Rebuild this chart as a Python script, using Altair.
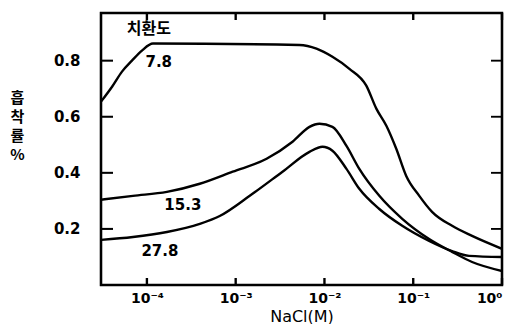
import altair as alt
import pandas as pd

# NaCl concentration (M) and adsorption (%)
x_78 = [3.04e-5, 4.05e-5, 5.24e-5, 6.78e-5, 8.79e-5, 1.17e-4, 5.24e-3, 8.13e-3,
        1.23e-2, 1.91e-2, 2.96e-2, 3.84e-2, 4.98e-2, 6.44e-2, 8.34e-2, 0.117,
        0.163, 0.274, 0.460, 1.0]
y_78 = [0.654, 0.707, 0.761, 0.800, 0.836, 0.861, 0.856, 0.843,
        0.814, 0.771, 0.711, 0.629, 0.568, 0.486, 0.389, 0.318,
        0.261, 0.211, 0.175, 0.129]

x_153 = [3.04e-5, 6.97e-5, 1.68e-4, 3.94e-4, 9.25e-4, 2.23e-3, 4.37e-3, 6.78e-3,
         8.79e-3, 1.23e-2, 1.77e-2, 2.47e-2, 4.15e-2, 7.52e-2, 0.151, 0.274,
         0.460, 1.0]
y_153 = [0.304, 0.318, 0.332, 0.361, 0.404, 0.450, 0.511, 0.564,
         0.575, 0.564, 0.496, 0.414, 0.318, 0.236, 0.164, 0.118,
         0.082, 0.050]

x_278 = [3.04e-5, 6.97e-5, 1.68e-4, 3.94e-4, 6.61e-4, 1.44e-3, 3.37e-3, 6.78e-3,
         9.5e-3, 1.23e-2, 1.77e-2, 2.47e-2, 4.15e-2, 7.52e-2, 0.151, 0.274,
         0.425, 1.0]
y_278 = [0.161, 0.171, 0.189, 0.218, 0.246, 0.318, 0.404, 0.475,
         0.493, 0.479, 0.414, 0.343, 0.271, 0.211, 0.157, 0.121,
         0.104, 0.100]

series_names = ["7.8", "15.3", "27.8"]

x_ticks = [1e-4, 1e-3, 1e-2, 1e-1, 1.0]
y_ticks = [0.2, 0.4, 0.6, 0.8]

label_text = ["치환도", "7.8", "15.3", "27.8"]
label_x = [1.05e-4, 1.36e-4, 2.54e-4, 1.40e-4]
label_y = [0.914, 0.796, 0.286, 0.121]

x_domain = [3.04e-5, 1.0]
y_domain = [0.0, 0.97]

rows = []
for name, xs, ys in zip(series_names, [x_78, x_153, x_278], [y_78, y_153, y_278]):
    for a, b in zip(xs, ys):
        rows.append({"s": name, "x": a, "y": b})
df = pd.DataFrame(rows)

W, H = 401, 272
xscale = alt.Scale(type="log", domain=x_domain)
yscale = alt.Scale(domain=y_domain, nice=False, zero=False)

sup = "['⁰','¹','²','³','⁴']"
label_expr = ("round(log(datum.value)/LN10) == 0 ? '10⁰' : '10⁻' + " + sup +
              "[-round(log(datum.value)/LN10)]")

lines = alt.Chart(df).mark_line(stroke="black", strokeWidth=2.4, interpolate="monotone", clip=True).encode(
    x=alt.X("x:Q", scale=xscale,
            axis=alt.Axis(values=x_ticks, labelExpr=label_expr, ticks=False, domain=False, grid=False,
                          labelPadding=6, labelFontSize=14, labelFont="DejaVu Sans",
                          labelFontWeight="bold", labelColor="black",
                          title="NaCl(M)", titleFontSize=16, titleFont="DejaVu Sans",
                          titleFontWeight="normal", titlePadding=3, titleColor="black"),
            ),
    y=alt.Y("y:Q", scale=yscale,
            axis=alt.Axis(values=y_ticks, format=".1f", ticks=False, domain=False, grid=False,
                          labelPadding=21, labelFontSize=15, labelFont="DejaVu Sans",
                          labelFontWeight="bold", labelColor="black",
                          title=["흡", "착", "률", "%"], titleAngle=0, titleAlign="center",
                          titleBaseline="top", titleX=-84, titleY=77, titleLineHeight=19,
                          titleFont="Noto Sans CJK KR", titleFontSize=15, titleFontWeight="bold",
                          titleColor="black")),
    detail="s:N",
)

# tick tables: position along the axis and the edge it sits on
xt = pd.DataFrame({"tx": x_ticks * 2, "ty": [y_domain[0]] * 5 + [y_domain[1]] * 5,
                   "side": ["b"] * 5 + ["t"] * 5})
yt = pd.DataFrame({"ty": y_ticks * 2, "tx": [x_domain[0]] * 4 + [x_domain[1]] * 4,
                   "side": ["l"] * 4 + ["r"] * 4})

vbar = "M-0.34,-1H0.34V1H-0.34Z"
hbar = "M-1,-0.17H1V0.17H-1Z"

bottom_ticks = alt.Chart(xt[xt.side == "b"]).mark_point(
    shape=vbar, filled=True, fill="black", stroke=None, opacity=1, size=49, yOffset=-3.5).encode(
    x=alt.X("tx:Q", scale=xscale), y=alt.Y("ty:Q", scale=yscale))
top_ticks = alt.Chart(xt[xt.side == "t"]).mark_point(
    shape=vbar, filled=True, fill="black", stroke=None, opacity=1, size=49, yOffset=3.5).encode(
    x=alt.X("tx:Q", scale=xscale), y=alt.Y("ty:Q", scale=yscale))
left_ticks = alt.Chart(yt[yt.side == "l"]).mark_point(
    shape=hbar, filled=True, fill="black", stroke=None, opacity=1, size=144, xOffset=6).encode(
    x=alt.X("tx:Q", scale=xscale), y=alt.Y("ty:Q", scale=yscale))
right_ticks = alt.Chart(yt[yt.side == "r"]).mark_point(
    shape=hbar, filled=True, fill="black", stroke=None, opacity=1, size=121, xOffset=-5.5).encode(
    x=alt.X("tx:Q", scale=xscale), y=alt.Y("ty:Q", scale=yscale))

frame_df = pd.DataFrame({"f": [0]})
box = alt.Chart(frame_df).mark_rect(fill="transparent", stroke="black", strokeWidth=2.4).encode(
    x=alt.value(0), x2=alt.value(W), y=alt.value(0), y2=alt.value(H))

ldf = pd.DataFrame({"t": label_text, "x": label_x, "y": label_y})
labels_ko = alt.Chart(ldf.iloc[:1]).mark_text(font="Noto Sans CJK KR", fontSize=16, fontWeight="bold",
                                             fill="black").encode(
    x=alt.X("x:Q", scale=xscale), y=alt.Y("y:Q", scale=yscale), text="t:N")
labels_num = alt.Chart(ldf.iloc[1:]).mark_text(font="DejaVu Sans", fontSize=15, fontWeight="bold",
                                              fill="black").encode(
    x=alt.X("x:Q", scale=xscale), y=alt.Y("y:Q", scale=yscale), text="t:N")

chart = alt.layer(lines, box, bottom_ticks, top_ticks, left_ticks, right_ticks,
                  labels_ko, labels_num).properties(
    width=W, height=H,
    autosize=alt.AutoSizeParams(type="none"),
    padding={"left": 93, "top": 5, "right": 7, "bottom": 39},
    background="white",
).configure_view(stroke="black", strokeWidth=2.2)

chart.save("out.html", embed_options={"renderer": "svg", "actions": False})
